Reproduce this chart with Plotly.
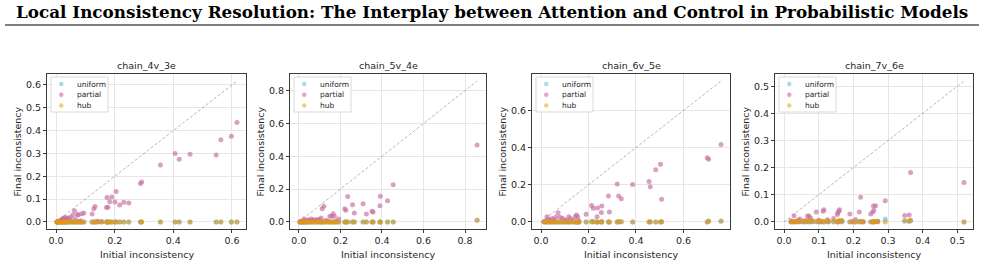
import plotly.graph_objects as go

# ---------------- data ----------------
panel_titles = ["chain_4v_3e", "chain_5v_4e", "chain_6v_5e", "chain_7v_6e"]
series_names = ["uniform", "partial", "hub"]

# chain_4v_3e
init_4v = [0.617, 0.598, 0.562, 0.546, 0.457, 0.420, 0.406, 0.356, 0.292, 0.288,
           0.248, 0.231, 0.217, 0.205, 0.201, 0.190, 0.183, 0.177, 0.174, 0.172,
           0.155, 0.142, 0.133, 0.129, 0.123, 0.095, 0.088, 0.083, 0.076, 0.073,
           0.066, 0.063, 0.057, 0.050, 0.045, 0.040, 0.036, 0.033, 0.030, 0.027,
           0.024, 0.021, 0.018, 0.015, 0.012, 0.009, 0.007, 0.005, 0.003]
partial_4v = [0.435, 0.375, 0.360, 0.293, 0.297, 0.275, 0.300, 0.249, 0.175, 0.168,
              0.083, 0.086, 0.074, 0.133, 0.087, 0.109, 0.088, 0.064, 0.107, 0.063,
              0.002, 0.003, 0.068, 0.058, 0.035, 0.039, 0.036, 0.005, 0.032, 0.031,
              0.012, 0.049, 0.030, 0.020, 0.012, 0.018, 0.015, 0.008, 0.020, 0.012,
              0.016, 0.006, 0.010, 0.005, 0.004, 0.002, 0.001, 0.001, 0.000]
uniform_4v = [0.0] * len(init_4v)
hub_4v = [0.0] * len(init_4v)

# chain_5v_4e
init_5v = [0.858, 0.454, 0.427, 0.392, 0.390, 0.357, 0.352, 0.325, 0.309, 0.267,
           0.258, 0.235, 0.226, 0.221, 0.192, 0.180, 0.171, 0.165, 0.158, 0.149,
           0.140, 0.130, 0.120, 0.112, 0.107, 0.100, 0.092, 0.085, 0.075, 0.066,
           0.058, 0.050, 0.042, 0.035, 0.028, 0.024, 0.018, 0.012, 0.008, 0.005]
partial_5v = [0.468, 0.226, 0.129, 0.157, 0.099, 0.060, 0.065, 0.048, 0.111, 0.054,
              0.105, 0.155, 0.071, 0.081, 0.018, 0.004, 0.034, 0.050, 0.034, 0.034,
              0.005, 0.010, 0.095, 0.081, 0.024, 0.012, 0.015, 0.010, 0.014, 0.012,
              0.018, 0.010, 0.012, 0.008, 0.005, 0.018, 0.004, 0.003, 0.002, 0.001]
uniform_5v = [0.010] + [0.0] * (len(init_5v) - 1)
hub_5v = [0.010] + [0.0] * (len(init_5v) - 1)

# chain_6v_5e
init_6v = [0.758, 0.706, 0.700, 0.508, 0.503, 0.483, 0.460, 0.455, 0.386, 0.338,
           0.327, 0.321, 0.288, 0.284, 0.256, 0.254, 0.238, 0.236, 0.220, 0.213,
           0.190, 0.160, 0.155, 0.150, 0.145, 0.135, 0.124, 0.117, 0.108, 0.100,
           0.090, 0.080, 0.072, 0.063, 0.055, 0.047, 0.040, 0.033, 0.025, 0.020,
           0.013]
partial_6v = [0.416, 0.337, 0.346, 0.122, 0.311, 0.281, 0.189, 0.218, 0.202, 0.125,
              0.139, 0.204, 0.054, 0.140, 0.086, 0.051, 0.075, 0.028, 0.074, 0.088,
              0.042, 0.005, 0.026, 0.037, 0.030, 0.010, 0.019, 0.028, 0.008, 0.012,
              0.020, 0.025, 0.049, 0.026, 0.012, 0.018, 0.008, 0.015, 0.028, 0.005,
              0.003]
uniform_6v = [0.004, 0.004] + [0.0] * (len(init_6v) - 2)
hub_6v = [0.005, 0.005, 0.0, 0.002, 0.0, 0.0, 0.002, 0.0, 0.0, 0.003,
          0.003, 0.0, 0.0, 0.0, 0.003, 0.0, 0.0, 0.0, 0.004, 0.003,
          0.0, 0.0, 0.0, 0.0, 0.0, 0.0, 0.0, 0.0, 0.0, 0.0,
          0.0, 0.0, 0.0, 0.0, 0.0, 0.0, 0.0, 0.0, 0.0, 0.0, 0.0]

# chain_7v_6e
init_7v = [0.519, 0.365, 0.361, 0.348, 0.292, 0.270, 0.264, 0.259, 0.258, 0.256,
           0.250, 0.228, 0.221, 0.217, 0.206, 0.198, 0.190, 0.167, 0.160, 0.158,
           0.155, 0.154, 0.143, 0.128, 0.125, 0.115, 0.113, 0.105, 0.100, 0.093,
           0.082, 0.076, 0.072, 0.068, 0.062, 0.055, 0.046, 0.041, 0.035, 0.029,
           0.024, 0.020]
partial_7v = [0.145, 0.182, 0.026, 0.024, 0.078, 0.003, 0.060, 0.043, 0.059, 0.037,
              0.029, 0.002, 0.091, 0.037, 0.009, 0.002, 0.029, 0.004, 0.045, 0.039,
              0.034, 0.027, 0.013, 0.003, 0.008, 0.045, 0.039, 0.002, 0.006, 0.037,
              0.004, 0.015, 0.022, 0.022, 0.005, 0.003, 0.011, 0.006, 0.003, 0.023,
              0.002, 0.004]
uniform_7v = [0.0, 0.004, 0.002, 0.003, 0.010, 0.0, 0.002, 0.0, 0.0, 0.001,
              0.0, 0.0, 0.001, 0.0, 0.0, 0.0, 0.001, 0.0, 0.002, 0.001,
              0.0, 0.0, 0.0, 0.0, 0.001, 0.0, 0.0, 0.0, 0.0, 0.001,
              0.0, 0.002, 0.0, 0.001, 0.0, 0.0, 0.001, 0.0, 0.0, 0.0,
              0.0, 0.0]
hub_7v = [0.0, 0.006, 0.004, 0.005, 0.0, 0.003, 0.002, 0.001, 0.002, 0.0,
          0.001, 0.0, 0.003, 0.002, 0.0, 0.001, 0.0, 0.004, 0.006, 0.003,
          0.002, 0.001, 0.003, 0.004, 0.002, 0.001, 0.002, 0.004, 0.003, 0.002,
          0.003, 0.005, 0.002, 0.004, 0.003, 0.001, 0.002, 0.002, 0.003, 0.001,
          0.002, 0.001]

panel_init = [init_4v, init_5v, init_6v, init_7v]
panel_series = [
    [uniform_4v, partial_4v, hub_4v],
    [uniform_5v, partial_5v, hub_5v],
    [uniform_6v, partial_6v, hub_6v],
    [uniform_7v, partial_7v, hub_7v],
]
x_dticks = [0.2, 0.2, 0.2, 0.1]
y_dticks = [0.1, 0.2, 0.2, 0.1]

main_title = "Local Inconsistency Resolution: The Interplay between Attention and Control in Probabilistic Models"
x_label = "Initial inconsistency"
y_label = "Final inconsistency"

# ---------------- style ----------------
W, H = 984, 266
colors = ["rgba(86,180,233,0.6)", "rgba(196,110,160,0.65)", "rgba(226,152,20,0.6)"]
legend_colors = ["rgba(86,180,233,0.5)", "rgba(196,110,160,0.6)", "rgba(230,159,0,0.5)"]
font_family = "DejaVu Sans"
txt_color = "#262626"
axis_px = [(47, 246), (290, 486), (532, 730), (775, 973)]
y_top, y_bot = 74, 229
ydom = [1 - y_bot / H, 1 - y_top / H]

fig = go.Figure()
layout = dict(
    width=W, height=H, margin=dict(l=0, r=0, t=0, b=0),
    paper_bgcolor="white", plot_bgcolor="white", showlegend=False,
    font=dict(family=font_family, size=9.5, color=txt_color),
)
annotations = []
shapes = []

for i in range(4):
    n = "" if i == 0 else str(i + 1)
    xa, ya = "x" + n, "y" + n
    xs = panel_init[i]
    m = max(max(xs), max(max(s) for s in panel_series[i]))
    rng = [-0.05 * m, 1.05 * m]

    # diagonal y = x reference
    fig.add_trace(go.Scatter(
        x=[0, m], y=[0, m], mode="lines", xaxis=xa, yaxis=ya,
        line=dict(color="rgba(0,0,0,0.32)", width=0.9, dash="3px,2px"),
        hoverinfo="skip", showlegend=False))

    for k in range(3):
        fig.add_trace(go.Scatter(
            x=xs, y=panel_series[i][k], mode="markers", name=series_names[k],
            xaxis=xa, yaxis=ya, showlegend=False,
            marker=dict(size=5, color=colors[k], line=dict(width=0))))

    common = dict(
        range=rng, showline=True, mirror=True, linecolor="#3a3a3a", linewidth=0.9,
        ticks="outside", ticklen=3, tickwidth=0.8, tickcolor="#3a3a3a",
        showgrid=True, gridcolor="#e6e6e6", gridwidth=0.8, zeroline=False,
        tickformat=".1f", tick0=0, tickfont=dict(size=9.5, color=txt_color),
    )
    layout["xaxis" + n] = dict(common, domain=[axis_px[i][0] / W, axis_px[i][1] / W],
                               anchor=ya, dtick=x_dticks[i])
    layout["yaxis" + n] = dict(common, domain=ydom, anchor=xa, dtick=y_dticks[i])

    xd, yd = xa + " domain", ya + " domain"
    # panel title
    annotations.append(dict(text=panel_titles[i], xref=xd, yref=yd, x=0.5, y=1,
                            yshift=9, xanchor="center", yanchor="middle",
                            showarrow=False, font=dict(size=9.5, color=txt_color)))
    # axis titles
    annotations.append(dict(text=x_label, xref=xd, yref=yd, x=0.5, y=0,
                            yshift=-25, xanchor="center", yanchor="middle",
                            showarrow=False, font=dict(size=9.5, color=txt_color)))
    annotations.append(dict(text=y_label, xref=xd, yref=yd, x=0, y=0.5,
                            xshift=-30, xanchor="center", yanchor="middle", textangle=-90,
                            showarrow=False, font=dict(size=9.5, color=txt_color)))
    # legend box
    shapes.append(dict(type="rect", xref=xd, yref=yd, xsizemode="pixel", ysizemode="pixel",
                       xanchor=0, yanchor=1, x0=4, x1=61, y0=-3, y1=-38,
                       line=dict(color="#d0d0d0", width=0.8), fillcolor="rgba(255,255,255,0.85)",
                       layer="above"))
    for k in range(3):
        cy = -(10 + k * 10.7)
        shapes.append(dict(type="circle", xref=xd, yref=yd, xsizemode="pixel", ysizemode="pixel",
                           xanchor=0, yanchor=1, x0=12, x1=16.5, y0=cy - 2.25, y1=cy + 2.25,
                           line=dict(width=0), fillcolor=legend_colors[k], layer="above"))
        annotations.append(dict(text=series_names[k], xref=xd, yref=yd, x=0, y=1,
                                xshift=28, yshift=cy, xanchor="left", yanchor="middle",
                                showarrow=False, font=dict(size=7.5, color=txt_color)))

# main title + rule
annotations.append(dict(text="<b>" + main_title + "</b>", xref="paper", yref="paper",
                        x=0.5, y=1 - 12 / H, xanchor="center", yanchor="middle",
                        showarrow=False,
                        font=dict(family="DejaVu Serif", size=16.8, color="black")))
shapes.append(dict(type="line", xref="paper", yref="paper", x0=5 / W, x1=979 / W,
                   y0=1 - 25 / H, y1=1 - 25 / H, line=dict(color="black", width=1.2)))

layout["annotations"] = annotations
layout["shapes"] = shapes
fig.update_layout(**layout)
fig.write_html("out.html")
